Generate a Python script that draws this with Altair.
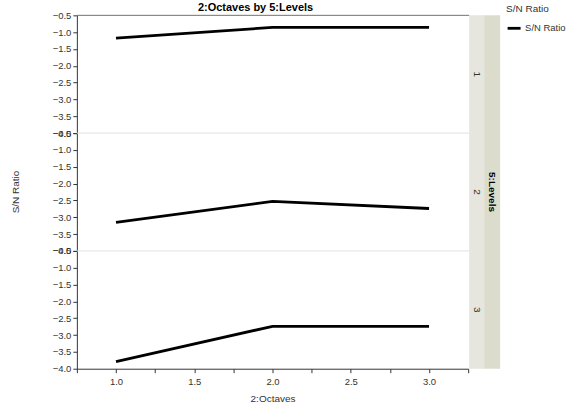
import altair as alt
import pandas as pd

octaves = [1.0, 2.0, 3.0]
levels = [1, 2, 3]
sn_level1 = [-1.18, -0.86, -0.86]
sn_level2 = [-3.15, -2.53, -2.74]
sn_level3 = [-3.79, -2.74, -2.74]
series_name = "S/N Ratio"
chart_title = "2:Octaves by 5:Levels"

rows = []
for lv, vals in zip(levels, [sn_level1, sn_level2, sn_level3]):
    for o, v in zip(octaves, vals):
        rows.append({"octaves": o, "level": lv, "sn": v, "series": series_name})
df = pd.DataFrame(rows)

W = 392
H = 118
FONT = "Liberation Sans"

xticks = [0.75, 1.0, 1.25, 1.5, 1.75, 2.0, 2.25, 2.5, 2.75, 3.0, 3.25]
yticks = [-0.5, -1.0, -1.5, -2.0, -2.5, -3.0, -3.5, -4.0]
xlabel_expr = ("(datum.value*2 == round(datum.value*2) && datum.value >= 1 && datum.value <= 3)"
               " ? format(datum.value, '.1f') : ''")


def panel(lv, last):
    base = alt.Chart(df).transform_filter(f"datum.level == {lv}")
    if last:
        xaxis = alt.Axis(values=xticks, title="2:Octaves", labelExpr=xlabel_expr,
                         labelPadding=4, titlePadding=7)
    else:
        xaxis = alt.Axis(values=xticks, title=None, labels=False, ticks=False, domain=False)
    line = base.mark_line(strokeWidth=2.8, clip=False).encode(
        x=alt.X("octaves:Q", scale=alt.Scale(domain=[0.75, 3.25], nice=False, zero=False), axis=xaxis),
        y=alt.Y("sn:Q", scale=alt.Scale(domain=[-4.0, -0.5], nice=False, zero=False),
                axis=alt.Axis(values=yticks, format=".1f", title=None)),
        color=alt.Color("series:N", scale=alt.Scale(domain=[series_name], range=["#000000"]),
                        legend=alt.Legend(title="S/N Ratio", orient="none", legendX=W + 38, legendY=-11,
                                          symbolType="stroke", symbolStrokeWidth=2.8,
                                          symbolSize=169, labelOffset=3, titlePadding=6)),
    )
    one = base.transform_filter("datum.octaves == 1")
    sep = one.mark_rule(strokeWidth=1, color="#707070" if lv == 1 else "#e2e2e2").encode(
        x=alt.value(0), x2=alt.value(W + 1), y=alt.value(0),
    )
    strip1 = one.mark_rect(color="#e6e6de").encode(
        x=alt.value(W + 1), x2=alt.value(W + 16), y=alt.value(0), y2=alt.value(H),
    )
    strip2 = one.mark_rect(color="#dcdccc").encode(
        x=alt.value(W + 16), x2=alt.value(W + 32), y=alt.value(0), y2=alt.value(H),
    )
    row_label = one.mark_text(angle=90, font=FONT, fontSize=10, color="#333333",
                              align="center", baseline="middle").encode(
        x=alt.value(W + 8.5), y=alt.value(H / 2), text=alt.Text("level:N"),
    )
    layers = [strip1, strip2, sep, row_label]
    if lv == 1:
        title_mark = one.mark_text(font=FONT, fontSize=11, fontWeight="bold", color="#000000",
                                   align="center", baseline="middle").encode(
            x=alt.value(179), y=alt.value(-7), text=alt.value(chart_title),
        )
        layers.append(title_mark)
    if lv == 2:
        row_title = one.mark_text(angle=90, font=FONT, fontSize=10, fontWeight="bold", color="#000000",
                                  align="center", baseline="middle").encode(
            x=alt.value(W + 24), y=alt.value(H / 2), text=alt.value("5:Levels"),
        )
        y_title = one.mark_text(angle=270, font=FONT, fontSize=10, color="#333333",
                                align="center", baseline="middle").encode(
            x=alt.value(-61), y=alt.value(H / 2), text=alt.value("S/N Ratio"),
        )
        layers += [row_title, y_title]
    layers.append(line)
    return alt.layer(*layers).properties(width=W, height=H)


chart = alt.vconcat(
    panel(1, False), panel(2, False), panel(3, True),
    spacing=0, bounds="flush",
).properties(
    padding={"left": 11, "top": 2, "right": 0, "bottom": 0},
).configure_view(stroke=None).configure_axis(
    labelFont=FONT, labelFontSize=9.5, labelColor="#333333",
    titleFont=FONT, titleFontSize=10, titleFontWeight="normal", titleColor="#333333",
    domainColor="#333333", tickColor="#333333", tickSize=4, grid=False,
).configure_axisY(labelPadding=2).configure_legend(
    labelFont=FONT, labelFontSize=9.5, labelColor="#333333",
    titleFont=FONT, titleFontSize=10, titleFontWeight="normal", titleColor="#333333",
)

chart.save("out.html", embed_options={"renderer": "svg", "actions": False})
